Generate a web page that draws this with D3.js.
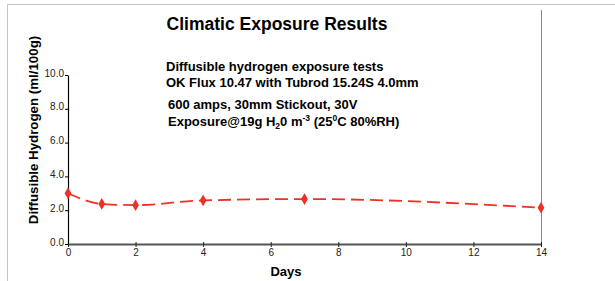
<!DOCTYPE html>
<html>
<head>
<meta charset="utf-8">
<script src="https://cdn.jsdelivr.net/npm/d3@7"></script>
<style>
  body { margin: 0; background: #fff; }
  svg { display: block; font-family: "Liberation Sans", Arial, Helvetica, sans-serif; }
  .axis text { font-size: 10px; fill: #222; }
</style>
</head>
<body>
<div id="chart"></div>
<script>
// data
var days = [0, 1, 2, 4, 7, 14];
var hydrogen = [3.0, 2.37, 2.3, 2.58, 2.66, 2.15];
var xTicks = [0, 2, 4, 6, 8, 10, 12, 14];
var yTicks = [0, 2, 4, 6, 8, 10];
var notes = [
  'Diffusible hydrogen exposure tests',
  'OK Flux 10.47 with Tubrod 15.24S 4.0mm',
  '600 amps, 30mm Stickout, 30V'
];

var W = 615, H = 281;
var margin = { left: 68, right: 74, top: 75, bottom: 37 };

var svg = d3.select('#chart').append('svg')
  .attr('width', W).attr('height', H);

// frame
svg.append('path')
  .attr('d', 'M7.5,' + H + 'V4.5H' + W)
  .attr('fill', 'none').attr('stroke', '#c4c4c4').attr('stroke-width', 1);

var x = d3.scaleLinear().domain([0, 14]).range([margin.left, W - margin.right]);
var y = d3.scaleLinear().domain([0, 10]).range([H - margin.bottom, margin.top]);

// right border line of plot
svg.append('line')
  .attr('x1', x(14) + 0.5).attr('x2', x(14) + 0.5)
  .attr('y1', 10).attr('y2', y(0))
  .attr('stroke', '#888').attr('stroke-width', 1);

// x axis
var gx = svg.append('g').attr('class', 'axis')
  .attr('transform', 'translate(0,' + y(0) + ')')
  .call(d3.axisBottom(x).tickValues(xTicks).tickFormat(d3.format('d'))
    .tickSizeInner(3).tickSizeOuter(0).tickPadding(2));
gx.select('.domain').attr('stroke', '#555').attr('stroke-width', 2);
gx.selectAll('.tick line').attr('stroke', '#222').attr('y1', -2);

// y axis
var gy = svg.append('g').attr('class', 'axis')
  .attr('transform', 'translate(' + x(0) + ',0)')
  .call(d3.axisLeft(y).tickValues(yTicks).tickFormat(d3.format('.1f'))
    .tickSizeInner(3).tickSizeOuter(0).tickPadding(1));
gy.select('.domain').attr('stroke', '#000').attr('stroke-width', 1.2);
gy.selectAll('.tick text').attr('font-size', '9.5px').attr('dy', '0.1em');

// series
var pts = days.map(function (d, i) { return [d, hydrogen[i]]; });
var line = d3.line()
  .x(function (d) { return x(d[0]); })
  .y(function (d) { return y(d[1]); })
  .curve(d3.curveMonotoneX);

svg.append('path')
  .attr('d', line(pts))
  .attr('fill', 'none')
  .attr('stroke', '#ee3124')
  .attr('stroke-width', 1.8)
  .attr('stroke-dasharray', '13,6');

svg.selectAll('path.mk')
  .data(pts)
  .join('path')
  .attr('class', 'mk')
  .attr('d', d3.symbol().type(d3.symbolDiamond).size(40))
  .attr('transform', function (d) { return 'translate(' + x(d[0]) + ',' + y(d[1]) + ')'; })
  .attr('fill', '#ee3124');

// title
svg.append('text')
  .attr('x', 277).attr('y', 30)
  .attr('text-anchor', 'middle')
  .attr('font-size', '17.5px').attr('font-weight', 'bold')
  .text('Climatic Exposure Results');

// notes
svg.append('text').attr('x', 166).attr('y', 71)
  .attr('font-size', '13px').attr('font-weight', 'bold').text(notes[0]);
svg.append('text').attr('x', 166).attr('y', 87)
  .attr('font-size', '13px').attr('font-weight', 'bold').text(notes[1]);
svg.append('text').attr('x', 168).attr('y', 109)
  .attr('font-size', '13px').attr('font-weight', 'bold').text(notes[2]);

var t4 = svg.append('text').attr('x', 168).attr('y', 126)
  .attr('font-size', '13px').attr('font-weight', 'bold');
t4.append('tspan').text('Exposure@19g H');
t4.append('tspan').attr('font-size', '8.5px').attr('dy', 3).text('2');
t4.append('tspan').attr('dy', -3).text('0 m');
t4.append('tspan').attr('font-size', '8.5px').attr('dy', -5).text('-3');
t4.append('tspan').attr('dy', 5).text(' (25');
t4.append('tspan').attr('font-size', '8.5px').attr('dy', -5).text('0');
t4.append('tspan').attr('dy', 5).text('C 80%RH)');

// axis titles
svg.append('text')
  .attr('x', 286).attr('y', 276)
  .attr('text-anchor', 'middle')
  .attr('font-size', '13px').attr('font-weight', 'bold')
  .text('Days');

svg.append('text')
  .attr('transform', 'translate(38,130) rotate(-90)')
  .attr('text-anchor', 'middle')
  .attr('font-size', '13.3px').attr('font-weight', 'bold')
  .text('Diffusible Hydrogen (ml/100g)');
</script>
</body>
</html>
